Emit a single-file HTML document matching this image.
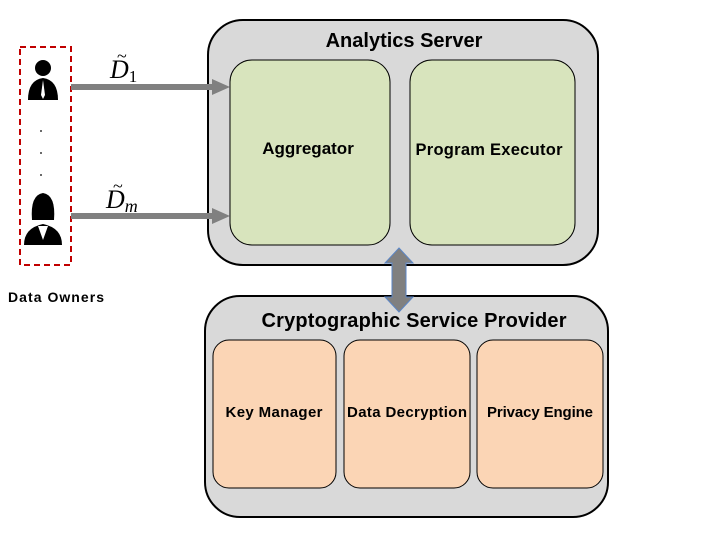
<!DOCTYPE html>
<html><head><style>body{margin:0;background:#fff}svg{display:block}</style></head><body>
<svg width="720" height="540" viewBox="0 0 720 540" xmlns="http://www.w3.org/2000/svg" font-family="Liberation Sans, sans-serif">
<rect x="208" y="20" width="390" height="245" rx="35" fill="#d9d9d9" stroke="#000" stroke-width="2"/>
<text x="404" y="47" text-anchor="middle" font-size="20" font-weight="bold">Analytics Server</text>
<rect x="230" y="60" width="160" height="185" rx="22" fill="#d8e4bd" stroke="#000" stroke-width="1"/>
<rect x="410" y="60" width="165" height="185" rx="22" fill="#d8e4bd" stroke="#000" stroke-width="1"/>
<text x="308" y="154" text-anchor="middle" font-size="17" font-weight="bold">Aggregator</text>
<text x="489" y="155" text-anchor="middle" font-size="16.5" font-weight="bold" textLength="147">Program Executor</text>
<rect x="205" y="296" width="403" height="221" rx="35" fill="#d9d9d9" stroke="#000" stroke-width="2"/>
<text x="414" y="327" text-anchor="middle" font-size="20" font-weight="bold" textLength="305">Cryptographic Service Provider</text>
<rect x="213" y="340" width="123" height="148" rx="16" fill="#fbd5b5" stroke="#000" stroke-width="1"/>
<rect x="344" y="340" width="126" height="148" rx="16" fill="#fbd5b5" stroke="#000" stroke-width="1"/>
<rect x="477" y="340" width="126" height="148" rx="16" fill="#fbd5b5" stroke="#000" stroke-width="1"/>
<text x="274" y="417" text-anchor="middle" font-size="15" font-weight="bold" textLength="97">Key Manager</text>
<text x="407" y="417" text-anchor="middle" font-size="15" font-weight="bold" textLength="120">Data Decryption</text>
<text x="540" y="417" text-anchor="middle" font-size="15" font-weight="bold" textLength="106">Privacy Engine</text>
<polygon points="399,248 413,263 406,263 406,297 413,297 399,312 385,297 392,297 392,263 385,263" fill="#808080" stroke="#5b86c6" stroke-width="1"/>
<rect x="20" y="47" width="51" height="218" fill="none" stroke="#c00000" stroke-width="2" stroke-dasharray="6,4"/>
<line x1="71" y1="87" x2="214" y2="87" stroke="#808080" stroke-width="6"/>
<polygon points="212,79 230,87 212,95" fill="#808080"/>
<line x1="71" y1="216" x2="214" y2="216" stroke="#808080" stroke-width="6"/>
<polygon points="212,208 230,216 212,224" fill="#808080"/>
<text x="110" y="78" font-family="Liberation Serif, serif" font-style="italic" font-size="26">D<tspan font-style="normal" font-size="17" dy="4">1</tspan></text>
<text x="117" y="62" font-family="Liberation Serif, serif" font-size="18">~</text>
<text x="106" y="208" font-family="Liberation Serif, serif" font-style="italic" font-size="26">D<tspan font-size="18" dy="4">m</tspan></text>
<text x="113" y="192" font-family="Liberation Serif, serif" font-size="18">~</text>
<circle cx="43" cy="68" r="8" fill="#000"/>
<path d="M28,100 Q28,80 43,78 Q58,80 58,100 Z" fill="#000"/>
<polygon points="43,80 41,95 43,99 45,95" fill="#fff"/>
<circle cx="41" cy="131" r="0.9" fill="#000"/><circle cx="41" cy="153" r="0.9" fill="#000"/><circle cx="41" cy="175" r="0.9" fill="#000"/>
<path d="M32,220 Q30,195 43,193 Q56,195 54,220 Z" fill="#000"/>
<path d="M24,245 Q24,228 43,224 Q62,228 62,245 Z" fill="#000"/>
<polygon points="38,226 43,240 48,226" fill="#fff"/>
<text x="8" y="302" font-size="14" font-weight="bold" textLength="96">Data Owners</text>
</svg>
</body></html>
